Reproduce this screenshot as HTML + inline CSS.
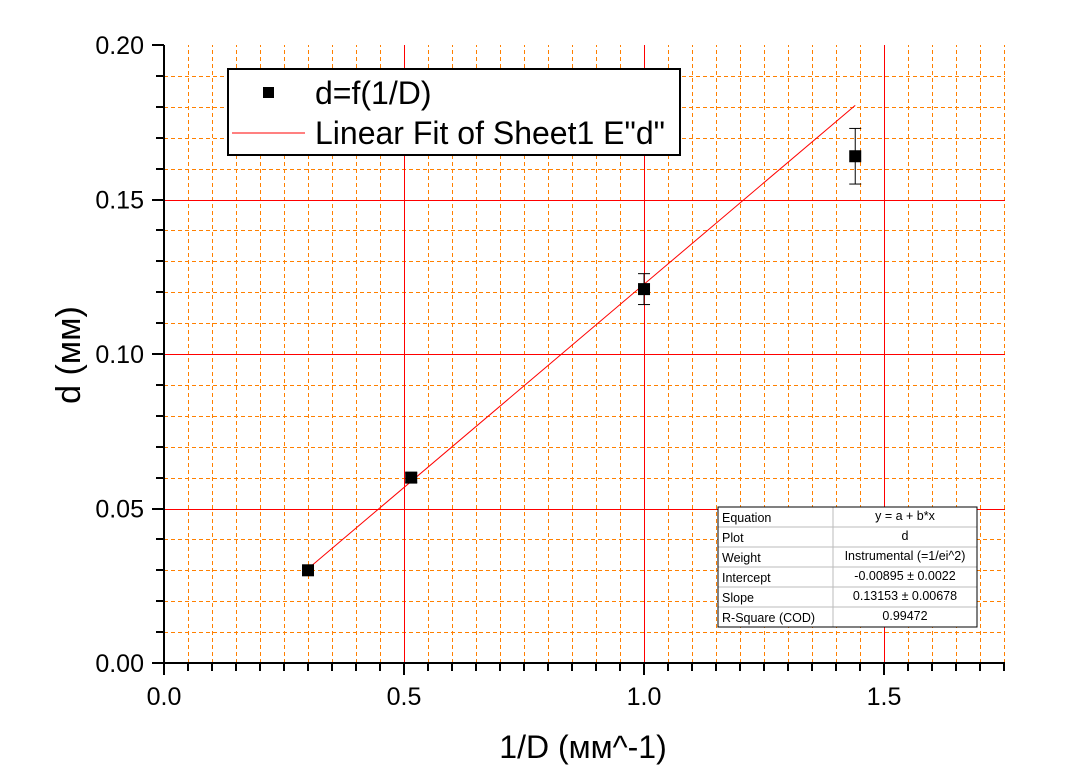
<!DOCTYPE html>
<html><head><meta charset="utf-8"><style>
body{margin:0;background:#fff;}
svg{display:block;font-family:"Liberation Sans",Arial,sans-serif;}
</style></head><body>
<svg id="c" width="1080" height="784" viewBox="0 0 1080 784"></svg>
<script>
const xs=[0.3,0.515,1.0,1.44];
const ys=[0.030,0.060,0.121,0.164];
const errs=[0.001,0.0015,0.005,0.009];
const fitA=-0.00895, fitB=0.13153;
const xTicks=[0,0.5,1.0,1.5];
const xTickLabels=["0.0","0.5","1.0","1.5"];
const yTicks=[0,0.05,0.10,0.15,0.20];
const yTickLabels=["0.00","0.05","0.10","0.15","0.20"];
const tableRows=[["Equation","y = a + b*x"],["Plot","d"],["Weight","Instrumental (=1/ei^2)"],["Intercept","-0.00895 ± 0.0022"],["Slope","0.13153 ± 0.00678"],["R-Square (COD)","0.99472"]];

const X0=164,X1=1005,Y0=663,Y1=45,xmax=1.752,ymax=0.2;
const sx=v=>X0+v/xmax*(X1-X0), sy=v=>Y0-v/ymax*(Y0-Y1);
const svg=document.getElementById('c');const NS='http://www.w3.org/2000/svg';
function mk(t,a,p){const e=document.createElementNS(NS,t);for(const k in a)e.setAttribute(k,a[k]);(p||svg).appendChild(e);return e;}
const R=v=>Math.round(v)+0.5;
const grid=mk('g',{'shape-rendering':'crispEdges'});
for(let i=1;i*0.05<=xmax;i++){const v=i*0.05;if(i%10==0)continue;const l=mk('line',{x1:R(sx(v)),x2:R(sx(v)),y1:Y0,y2:Y1,stroke:'#ff8000','stroke-width':1,'stroke-dasharray':'4,3'},grid);}
for(let i=1;i<=20;i++){if(i%5==0)continue;const v=i*0.01;const l=mk('line',{x1:X0,x2:X1,y1:R(sy(v)),y2:R(sy(v)),stroke:'#ff8000','stroke-width':1,'stroke-dasharray':'4,3'},grid);}
xTicks.slice(1).forEach(v=>{const l=mk('line',{x1:R(sx(v)),x2:R(sx(v)),y1:Y0,y2:Y1,stroke:'#f00','stroke-width':1},grid);});
yTicks.slice(1,4).forEach(v=>{const l=mk('line',{x1:X0,x2:X1,y1:R(sy(v)),y2:R(sy(v)),stroke:'#f00','stroke-width':1},grid);});
const ax=mk('g',{stroke:'#000','stroke-width':2,'shape-rendering':'crispEdges'});
mk('line',{x1:X0,x2:X1,y1:Y0,y2:Y0},ax);mk('line',{x1:X0,x2:X0,y1:Y0+1,y2:Y1},ax);
for(let i=0;i*0.05<=xmax;i++){const v=i*0.05;mk('line',{x1:Math.round(sx(v)),x2:Math.round(sx(v)),y1:Y0,y2:Y0+(i%10==0?12:8)},ax);}
for(let i=0;i<=20;i++){const v=i*0.01;mk('line',{x1:X0,x2:X0-(i%5==0?12:8),y1:Math.round(sy(v)),y2:Math.round(sy(v))},ax);}
xTicks.forEach((v,i)=>{const t=mk('text',{x:sx(v),y:Y0+42,'font-size':25,'text-anchor':'middle',fill:'#000'});t.textContent=xTickLabels[i];});
yTicks.forEach((v,i)=>{const t=mk('text',{x:X0-20,y:sy(v)+9,'font-size':25,'text-anchor':'end',fill:'#000'});t.textContent=yTickLabels[i];});
let t=mk('text',{x:583,y:758,'font-size':32,'text-anchor':'middle'});t.textContent='1/D (мм^-1)';
t=mk('text',{x:0,y:0,'font-size':34,'text-anchor':'middle',transform:'translate(80,355) rotate(-90)'});t.textContent='d (мм)';
const fl=mk('line',{x1:sx(xs[0]),y1:sy(fitA+fitB*xs[0]),x2:sx(xs[xs.length-1]),y2:sy(fitA+fitB*xs[xs.length-1]),stroke:'#f00','stroke-width':1});
xs.forEach((x,i)=>{const g=mk('g',{});
const cx=sx(x),t1=sy(ys[i]+errs[i]),b1=sy(ys[i]-errs[i]);
mk('line',{x1:cx,x2:cx,y1:t1,y2:b1,stroke:'#000','stroke-width':1},g);
mk('line',{x1:cx-6,x2:cx+6,y1:t1,y2:t1,stroke:'#000','stroke-width':1},g);
mk('line',{x1:cx-6,x2:cx+6,y1:b1,y2:b1,stroke:'#000','stroke-width':1},g);
mk('rect',{x:cx-6,y:sy(ys[i])-6,width:12,height:12,fill:'#000'},g);});
const lg=mk('g',{});
mk('rect',{x:228,y:69,width:452,height:86,fill:'#fff',stroke:'#000','stroke-width':2},lg);
mk('rect',{x:263,y:87,width:11,height:11,fill:'#000'},lg);
t=mk('text',{x:315,y:104,'font-size':32},lg);t.textContent='d=f(1/D)';
mk('line',{x1:232,x2:305,y1:133,y2:133,stroke:'#f00','stroke-width':1},lg);
t=mk('text',{x:315,y:144,'font-size':32},lg);t.textContent='Linear Fit of Sheet1 E"d"';
const tb=mk('g',{});
const TX=718,TY=507,TW=259,RH=20,CX=833;
mk('rect',{x:TX,y:TY,width:TW,height:RH*6,fill:'#fff'},tb);
tableRows.forEach((r,i)=>{const y=TY+i*RH;
if(i>0)mk('line',{x1:TX,x2:TX+TW,y1:y,y2:y,stroke:'#bbb','stroke-width':1},tb);
let a=mk('text',{x:TX+4,y:y+15,'font-size':12.5},tb);a.textContent=r[0];
let b=mk('text',{x:(CX+TX+TW)/2,y:y+13,'font-size':12.5,'text-anchor':'middle'},tb);b.textContent=r[1];});
mk('line',{x1:CX,x2:CX,y1:TY,y2:TY+RH*6,stroke:'#bbb','stroke-width':1},tb);
mk('rect',{x:TX,y:TY,width:TW,height:RH*6,fill:'none',stroke:'#000','stroke-width':1},tb);
</script>
</body></html>
